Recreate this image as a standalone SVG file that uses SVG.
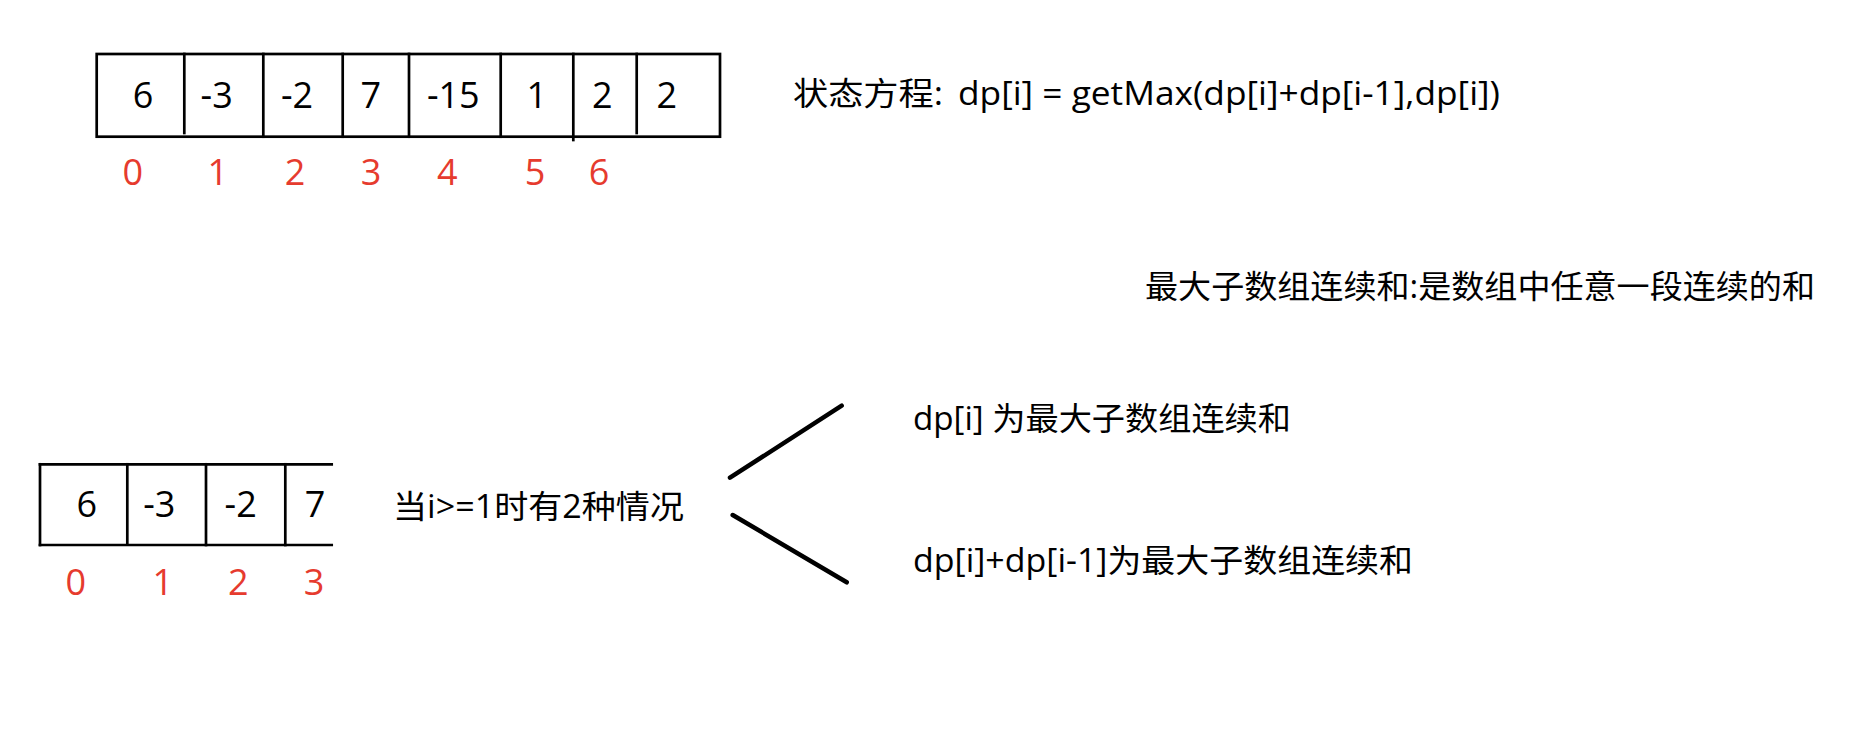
<svg xmlns="http://www.w3.org/2000/svg" width="1872" height="733" viewBox="0 0 1872 733">
<style>
.cell{fill:none;stroke:#000;stroke-width:2.7;stroke-linecap:square}
.num{font-family:"Open Sans","Liberation Sans",sans-serif;font-size:36px;fill:#000;text-anchor:middle}
.idx{font-family:"Open Sans","Liberation Sans",sans-serif;font-size:36px;fill:#e63b2e;text-anchor:middle}
.txt{font-family:"Open Sans","Noto Sans CJK SC",sans-serif;font-size:32px;fill:#000}
.conn{stroke:#000;stroke-width:4.5;stroke-linecap:round;fill:none}
</style>
<rect width="1872" height="733" fill="#fff"/>
<g id="top-array">
<rect class="cell" x="96.7" y="54" width="623.3" height="82.7"/>
<line class="cell" x1="184.3" y1="54" x2="184.3" y2="133"/>
<line class="cell" x1="263.3" y1="54" x2="263.3" y2="136.7"/>
<line class="cell" x1="342.7" y1="54" x2="342.7" y2="136.7"/>
<line class="cell" x1="409" y1="54" x2="409" y2="136.7"/>
<line class="cell" x1="500.7" y1="54" x2="500.7" y2="136.7"/>
<line class="cell" x1="573.3" y1="54" x2="573.3" y2="140"/>
<line class="cell" x1="636.7" y1="54" x2="636.7" y2="133"/>
<text class="num" x="143" y="107.5">6</text>
<text class="num" x="216.7" y="107.5">-3</text>
<text class="num" x="297" y="107.5">-2</text>
<text class="num" x="370.7" y="107.5">7</text>
<text class="num" x="453.3" y="107.5">-15</text>
<text class="num" x="536.7" y="107.5">1</text>
<text class="num" x="602.3" y="107.5">2</text>
<text class="num" x="666.7" y="107.5">2</text>
</g>
<g id="top-index">
<text class="idx" x="132.7" y="185">0</text>
<text class="idx" x="217.7" y="185">1</text>
<text class="idx" x="295" y="185">2</text>
<text class="idx" x="371" y="185">3</text>
<text class="idx" x="447.3" y="185">4</text>
<text class="idx" x="535" y="185">5</text>
<text class="idx" x="599" y="185">6</text>
</g>
<g id="equation">
<text class="txt" x="793" y="105" textLength="150" lengthAdjust="spacingAndGlyphs">状态方程:</text>
<text class="txt" x="958" y="105" textLength="542" lengthAdjust="spacingAndGlyphs">dp[i] = getMax(dp[i]+dp[i-1],dp[i])</text>
</g>
<g id="definition">
<text class="txt" x="1145" y="298" textLength="670" lengthAdjust="spacingAndGlyphs">最大子数组连续和:是数组中任意一段连续的和</text>
</g>
<g id="bottom-array">
<line class="cell" x1="40" y1="464.3" x2="331.7" y2="464.3"/>
<line class="cell" x1="40" y1="545" x2="331.7" y2="545"/>
<line class="cell" x1="40" y1="464.3" x2="40" y2="545"/>
<line class="cell" x1="127.3" y1="464.3" x2="127.3" y2="543"/>
<line class="cell" x1="206" y1="464.3" x2="206" y2="545"/>
<line class="cell" x1="285.3" y1="464.3" x2="285.3" y2="545"/>
<text class="num" x="86.7" y="517.3">6</text>
<text class="num" x="159.3" y="517.3">-3</text>
<text class="num" x="240.7" y="517.3">-2</text>
<text class="num" x="315" y="517.3">7</text>
</g>
<g id="bottom-index">
<text class="idx" x="75.7" y="595">0</text>
<text class="idx" x="162.7" y="595">1</text>
<text class="idx" x="238.3" y="595">2</text>
<text class="idx" x="314" y="595">3</text>
</g>
<g id="condition">
<text class="txt" x="393" y="518" textLength="291" lengthAdjust="spacingAndGlyphs">当i&gt;=1时有2种情况</text>
</g>
<g id="connectors">
<line class="conn" x1="730" y1="477.7" x2="841.7" y2="405.7"/>
<line class="conn" x1="732.7" y1="515" x2="846.7" y2="582.3"/>
</g>
<g id="case1">
<text class="txt" x="913" y="430" textLength="378" lengthAdjust="spacingAndGlyphs">dp[i] 为最大子数组连续和</text>
</g>
<g id="case2">
<text class="txt" x="913" y="572" textLength="500" lengthAdjust="spacingAndGlyphs">dp[i]+dp[i-1]为最大子数组连续和</text>
</g>
</svg>
